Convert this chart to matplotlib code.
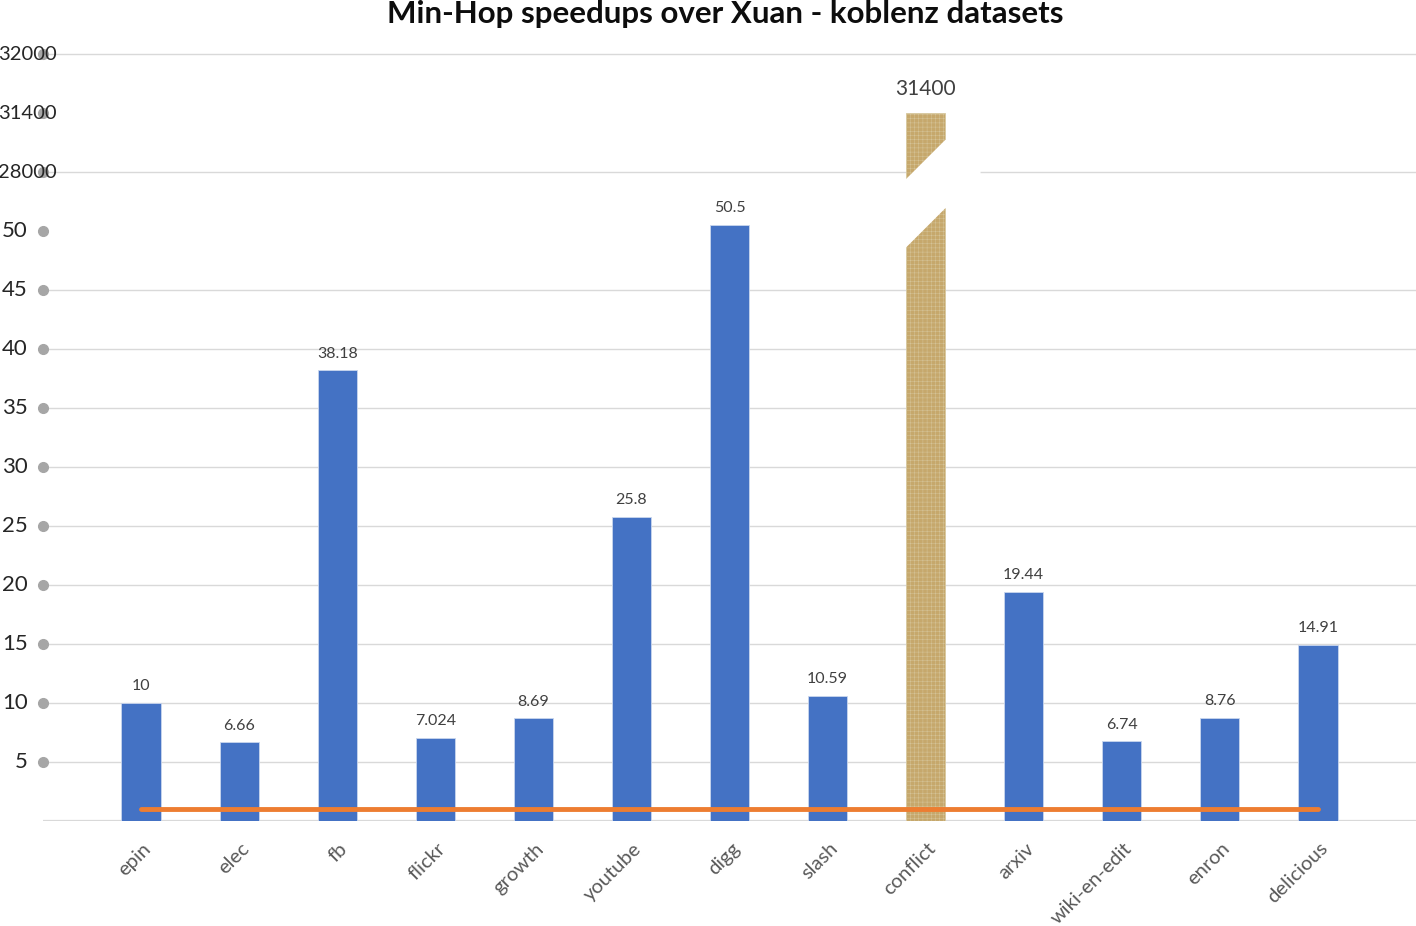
import numpy as np
import matplotlib
matplotlib.use("Agg")
import matplotlib.pyplot as plt
from matplotlib.patches import Polygon
import matplotlib.transforms as mtransforms

plt.rcParams['font.family'] = ['Lato', 'DejaVu Sans']
plt.rcParams['hatch.color'] = "#B89A5E"
plt.rcParams['hatch.linewidth'] = 0.3

datasets = ["epin", "elec", "fb", "flickr", "growth", "youtube", "digg",
            "slash", "conflict", "arxiv", "wiki-en-edit", "enron", "delicious"]
speedups = [10, 6.66, 38.18, 7.024, 8.69, 25.8, 50.5,
            10.59, 31400, 19.44, 6.74, 8.76, 14.91]
labels = ["10", "6.66", "38.18", "7.024", "8.69", "25.8", "50.5",
          "10.59", "31400", "19.44", "6.74", "8.76", "14.91"]
baseline = 1

# broken axis: above the break the big ticks sit on extra slots
low_ticks = [5, 10, 15, 20, 25, 30, 35, 40, 45, 50]
big_ticks = [28000, 31400, 32000]
big_slots = [55, 60, 65]

def to_slot(v):
    if v < big_ticks[0]:
        return v
    return np.interp(v, big_ticks, big_slots)

fig = plt.figure(figsize=(14.16, 9.26), dpi=100)
W, H = 1416, 926
ax = fig.add_axes([43 / W, (926 - 821) / H, (W - 43) / W, (821 - 40) / H])
ax.set_xlim(-1, 13)
ax.set_ylim(0, (821 - 40) / 11.8)
for s in ax.spines.values():
    s.set_visible(False)
ax.set_yticks([])
ax.tick_params(axis='x', length=0)

x = np.arange(len(datasets))
blue = "#4472C4"
tan = "#C6A86C"

# gridlines
for g in low_ticks[:-1] + [55, 65]:
    ax.axhline(g, color="#D9D9D9", lw=1, zorder=0)
ax.axhline(0, color="#D9D9D9", lw=1.6, zorder=0)

heights = [to_slot(v) for v in speedups]
colors = [tan if d == "conflict" else blue for d in datasets]
bars = ax.bar(x, heights, width=0.4, color=colors, edgecolor="#C9D6EE",
              linewidth=0.6, zorder=2)
ci = datasets.index("conflict")
bars[ci].set_edgecolor("#D8C9A0")
bars[ci].set_hatch("++++")

# break band on the conflict bar
k = 98 / 11.8
xl = ci - 0.22
ylow = lambda xx: 48.6 + (xx - (ci - 0.2)) * k
yup = lambda xx: 54.4 + (xx - (ci - 0.2)) * k
xr = ci + 0.2
band = Polygon([(xl, ylow(xl)), (xr, ylow(xr)), (ci + 0.56, ylow(xr)),
                (ci + 0.56, yup(xr)), (xr, yup(xr)), (xl, yup(xl))],
               closed=True, facecolor="white", edgecolor="none", zorder=3)
ax.add_patch(band)

# value labels
for i, (h, lab) in enumerate(zip(heights, labels)):
    if datasets[i] == "conflict":
        ax.annotate(lab, (i, h), xytext=(0, 10), textcoords="offset points",
                    ha="center", va="bottom", fontsize=15, color="#404040")
    else:
        ax.annotate(lab, (i, h), xytext=(0, 7), textcoords="offset points",
                    ha="center", va="bottom", fontsize=11.5, color="#404040")

# orange baseline series
ax.plot([x[0], x[-1]], [baseline, baseline], color="#ED7D31", lw=3.5,
        solid_capstyle="round", zorder=4)

# y tick dots and labels
trans = mtransforms.blended_transform_factory(ax.transAxes, ax.transData)
all_slots = low_ticks + big_slots
ax.plot(np.zeros(len(all_slots)), all_slots, "o", color="#A6A6A6",
        markersize=7, transform=trans, clip_on=False, zorder=1)
for t in low_ticks:
    ax.text(-15 / 1373, t, str(t), transform=trans, ha="right", va="center",
            fontsize=16, color="#262626")
for t, s in zip(big_ticks, big_slots):
    ax.text(14 / 1373, s, str(t), transform=trans, ha="right", va="center",
            fontsize=14.5, color="#262626", zorder=5)

ax.set_xticks(x)
ax.set_xticklabels(datasets, rotation=45, ha="right", va="top",
                   rotation_mode="anchor", fontsize=14.5, color="#595959")
for lab in ax.get_xticklabels():
    lab.set_transform(lab.get_transform() + mtransforms.ScaledTranslation(1 / 72, -10 / 72, fig.dpi_scale_trans))

fig.text(725 / W, 1 - 14 / H, "Min-Hop speedups over Xuan - koblenz datasets",
         ha="center", va="center", fontsize=22.5, fontweight="bold", color="#0D0D0D")

fig.savefig("out.png", dpi=100, facecolor="white")
